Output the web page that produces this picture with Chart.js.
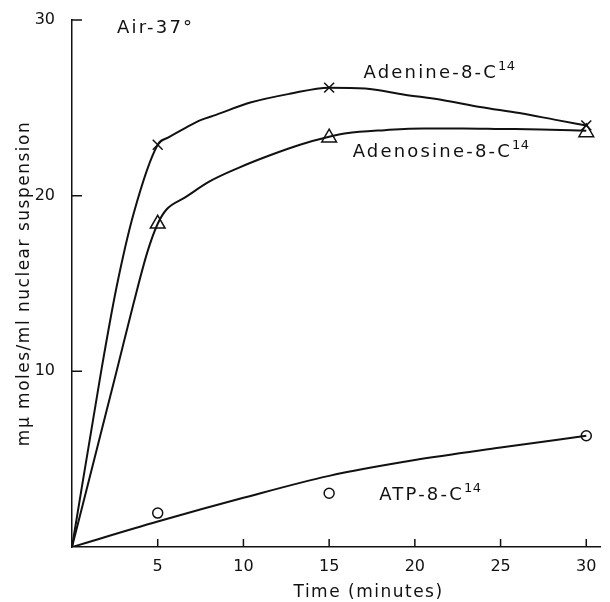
<!DOCTYPE html>
<html lang="en">
<head>
  <meta charset="UTF-8">
  <script src="https://cdn.jsdelivr.net/npm/chart.js"></script>
  <style>
    html, body {
      margin: 0;
      padding: 0;
      background: #fff;
    }

    .chart-box {
      position: relative;
      width: 610px;
      height: 602px;
    }
  </style>
</head>
<body>
  <div class="chart-box">
    <canvas id="uptake-chart"></canvas>
  </div>
  <script>
    // measured points (time in minutes, mμ moles/ml)
    const minutes = [5, 15, 30];
    const adenine = [22.9, 26.15, 24.0];
    const adenosine = [18.4, 23.3, 23.6];
    const atp = [1.93, 3.06, 6.33];

    // the hand drawn curves
    const adenineFitT = [0, 1.7, 2.6, 3.6, 5, 5.6, 6.6, 7.5, 8.4, 10.4, 12.7, 15, 17.1, 19.4, 21.6, 23.8, 26.1, 28.3, 30];
    const adenineFitV = [0, 10, 14.8, 19, 22.9, 23.3, 23.85, 24.3, 24.6, 25.3, 25.8, 26.15, 26.1, 25.75, 25.45, 25.05, 24.7, 24.3, 24.0];
    const adenosineFitT = [0, 2.6, 3.6, 4.4, 5, 5.5, 6.6, 8, 9.75, 11.55, 13.3, 15, 16, 18.25, 20.5, 22.8, 25, 27.35, 30];
    const adenosineFitV = [0, 10, 13.9, 16.8, 18.4, 19.2, 19.9, 20.8, 21.6, 22.3, 22.9, 23.35, 23.55, 23.73, 23.83, 23.83, 23.8, 23.77, 23.7];
    const atpFitT = [0, 5, 10, 15, 20, 25, 30];
    const atpFitV = [0, 1.45, 2.8, 4.05, 4.95, 5.66, 6.33];

    const xTicks = [5, 10, 15, 20, 25, 30];
    const yTicks = [10, 20, 30];

    const INK = '#111';
    const FONT = '"DejaVu Sans", sans-serif';

    const pairs = (xs, ys) => xs.map((x, i) => ({ x: x, y: ys[i] }));

    // text placed in data coordinates (left edge, baseline)
    const notes = [
      { text: 'Air-37°', t: 2.62, v: 29.25 },
      { text: 'Adenine-8-C', sup: '14', t: 17.0, v: 26.7 },
      { text: 'Adenosine-8-C', sup: '14', t: 16.37, v: 22.2 },
      { text: 'ATP-8-C', sup: '14', t: 17.92, v: 2.67 }
    ];

    const figureText = {
      id: 'figureText',
      afterDraw(chart) {
        const { ctx, chartArea, scales: { x, y } } = chart;
        ctx.save();
        ctx.strokeStyle = INK;
        ctx.lineWidth = 1.5;

        // tick marks point inward like the original
        ctx.beginPath();
        xTicks.forEach(v => {
          const px = x.getPixelForValue(v);
          ctx.moveTo(px, chartArea.bottom);
          ctx.lineTo(px, chartArea.bottom - 8);
        });
        yTicks.forEach(v => {
          const py = y.getPixelForValue(v);
          ctx.moveTo(chartArea.left, py);
          ctx.lineTo(chartArea.left + 10, py);
        });
        ctx.stroke();

        ctx.fillStyle = INK;
        ctx.textBaseline = 'alphabetic';
        ctx.textAlign = 'left';
        notes.forEach(n => {
          const px = x.getPixelForValue(n.t);
          const py = y.getPixelForValue(n.v);
          ctx.letterSpacing = '2.2px';
          ctx.font = '18px ' + FONT;
          ctx.fillText(n.text, px, py);
          if (n.sup) {
            const w = ctx.measureText(n.text).width;
            ctx.letterSpacing = '0.5px';
            ctx.font = '13px ' + FONT;
            ctx.fillText(n.sup, px + w, py - 8);
          }
        });

        // axis titles
        ctx.font = '17px ' + FONT;
        ctx.letterSpacing = '1.5px';
        ctx.textAlign = 'center';
        ctx.textBaseline = 'middle';
        ctx.fillText('Time (minutes)', x.getPixelForValue(17.3), 593);

        ctx.translate(25, (chartArea.top + chartArea.bottom) / 2);
        ctx.rotate(-Math.PI / 2);
        ctx.fillText('mμ moles/ml nuclear suspension', 0, 0);
        ctx.restore();
      }
    };

    new Chart(document.getElementById('uptake-chart'), {
      type: 'scatter',
      data: {
        datasets: [
          {
            label: 'Adenine curve',
            data: pairs(adenineFitT, adenineFitV),
            showLine: true,
            borderColor: INK,
            borderWidth: 2,
            pointRadius: 0,
            cubicInterpolationMode: 'monotone'
          },
          {
            label: 'Adenosine curve',
            data: pairs(adenosineFitT, adenosineFitV),
            showLine: true,
            borderColor: INK,
            borderWidth: 2,
            pointRadius: 0,
            cubicInterpolationMode: 'monotone'
          },
          {
            label: 'ATP curve',
            data: pairs(atpFitT, atpFitV),
            showLine: true,
            borderColor: INK,
            borderWidth: 2,
            pointRadius: 0,
            cubicInterpolationMode: 'monotone'
          },
          {
            label: 'Adenine-8-C14',
            data: pairs(minutes, adenine),
            pointStyle: 'crossRot',
            pointRadius: 7,
            borderColor: INK,
            borderWidth: 1.5
          },
          {
            label: 'Adenosine-8-C14',
            data: pairs(minutes, adenosine),
            pointStyle: 'triangle',
            pointRadius: 8.5,
            borderColor: INK,
            backgroundColor: '#fff',
            borderWidth: 1.5
          },
          {
            label: 'ATP-8-C14',
            data: pairs(minutes, atp),
            pointStyle: 'circle',
            pointRadius: 5,
            borderColor: INK,
            backgroundColor: '#fff',
            borderWidth: 1.5
          }
        ]
      },
      options: {
        responsive: true,
        maintainAspectRatio: false,
        animation: false,
        layout: {
          padding: { top: 20, right: 2.5, left: 0, bottom: 0 }
        },
        plugins: {
          legend: { display: false },
          tooltip: { enabled: false }
        },
        scales: {
          x: {
            type: 'linear',
            min: 0,
            max: 30.8,
            afterBuildTicks: scale => { scale.ticks = xTicks.map(v => ({ value: v })); },
            afterFit: scale => { scale.height = 55; },
            grid: { display: false },
            border: { display: true, color: INK, width: 1.5 },
            ticks: { color: INK, font: { family: FONT, size: 16 }, padding: 2, maxRotation: 0 }
          },
          y: {
            type: 'linear',
            min: 0,
            max: 30,
            afterBuildTicks: scale => { scale.ticks = yTicks.map(v => ({ value: v })); },
            afterFit: scale => { scale.width = 72; },
            grid: { display: false },
            border: { display: true, color: INK, width: 1.5 },
            ticks: { color: INK, font: { family: FONT, size: 16 }, padding: 9 }
          }
        }
      },
      plugins: [figureText]
    });
  </script>
</body>
</html>
